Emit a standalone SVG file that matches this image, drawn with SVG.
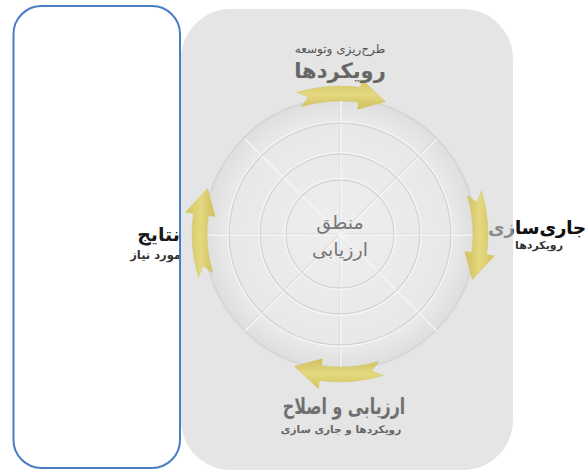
<svg xmlns="http://www.w3.org/2000/svg" width="586" height="470" viewBox="0 0 586 470">
<defs>
<radialGradient id="disk" cx="0.5" cy="0.5" r="0.5">
<stop offset="0" stop-color="#eeeeee"/>
<stop offset="0.85" stop-color="#e8e8e8"/>
<stop offset="1" stop-color="#dedede"/>
</radialGradient>
<linearGradient id="gold" x1="0" y1="0" x2="0" y2="1">
<stop offset="0" stop-color="#d3c45e"/>
<stop offset="0.5" stop-color="#e4d880"/>
<stop offset="1" stop-color="#cfbf5c"/>
</linearGradient>
<clipPath id="outR"><rect x="513" y="0" width="80" height="470"/></clipPath>
<path id="arw" d="M-43.28,-141.53 A148,148 0 0 1 20.6,-146.56 L21.72,-154.49 L45.58,-132.37 L17.54,-124.77 L18.51,-131.71 A133,133 0 0 0 -38.89,-127.19 L-31.61,-136.9 Z"/>
</defs>
<style>
.ar{font-family:"DejaVu Sans",sans-serif;direction:rtl}
.ring{fill:none;stroke:#d3d3d3;stroke-width:1.4}
.hl{fill:none;stroke:#f6f6f6;stroke-width:1.2}
.sp{stroke:#f4f4f4;stroke-width:1.6}
.sps{stroke:#d6d6d6;stroke-width:1}
.arrow{fill:url(#gold);stroke:#d0c060;stroke-width:0.4}
</style>
<rect width="586" height="470" fill="#ffffff"/>
<g id="left-label">
<text class="ar" x="180" y="241" text-anchor="start" font-size="19" font-weight="bold" fill="#1a1a1a">نتایج</text>
<text class="ar" x="181" y="259" text-anchor="start" font-size="11.5" font-weight="bold" fill="#333">مورد نیاز</text>
</g>
<rect id="panel" x="181" y="9" width="332" height="461" rx="50" ry="50" fill="#e5e5e5"/>
<g id="wheel" transform="translate(340,234)">
<circle r="136" fill="url(#disk)" stroke="#d6d6d6" stroke-width="2"/>
<g class="sps">
<line x1="0" y1="-136" x2="0" y2="136"/><line x1="-136" y1="0" x2="136" y2="0"/>
<line x1="-96" y1="-96" x2="96" y2="96"/><line x1="-96" y1="96" x2="96" y2="-96"/>
</g>
<g class="sp" transform="translate(1,1)">
<line x1="0" y1="-136" x2="0" y2="136"/><line x1="-136" y1="0" x2="136" y2="0"/>
<line x1="-96" y1="-96" x2="96" y2="96"/><line x1="-96" y1="96" x2="96" y2="-96"/>
</g>
<circle class="ring" r="111"/><circle class="hl" r="112.3"/>
<circle class="ring" r="80"/><circle class="hl" r="81.3"/>
<circle class="ring" r="54"/><circle class="hl" r="55.3"/>
</g>
<g id="center">
<text class="ar" x="340" y="229" text-anchor="middle" font-size="19" fill="#777">منطق</text>
<text class="ar" x="340" y="256" text-anchor="middle" font-size="19" fill="#777">ارزیابی</text>
</g>
<g id="connectors" transform="translate(340,234)">
<use href="#arw" class="arrow"/>
<use href="#arw" class="arrow" transform="rotate(90)"/>
<use href="#arw" class="arrow" transform="rotate(180)"/>
<use href="#arw" class="arrow" transform="rotate(270)"/>
</g>
<g id="top-label">
<text class="ar" x="340" y="53" text-anchor="middle" font-size="12" fill="#555">طرح‌ریزی وتوسعه</text>
<text class="ar" x="340" y="78" text-anchor="middle" font-size="21" font-weight="bold" fill="#666">رویکردها</text>
</g>
<g id="right-label">
<text class="ar" x="586" y="234" text-anchor="start" font-size="18" font-weight="bold" fill="#8a8a8a">جاری‌سازی</text>
<text class="ar" x="586" y="234" text-anchor="start" font-size="18" font-weight="bold" fill="#111" clip-path="url(#outR)">جاری‌سازی</text>
<text class="ar" x="563" y="249" text-anchor="start" font-size="11" font-weight="bold" fill="#333">رویکردها</text>
</g>
<g id="bottom-label">
<text class="ar" transform="translate(344,414) scale(0.72,1)" text-anchor="middle" font-size="22" font-weight="bold" fill="#707070">ارزیابی و اصلاح</text>
<text class="ar" x="341" y="433" text-anchor="middle" font-size="10.5" font-weight="bold" fill="#666">رویکردها و جاری سازی</text>
</g>
<rect id="frame" x="13.5" y="6" width="166.5" height="462" rx="28" ry="28" fill="none" stroke="#4a7ec4" stroke-width="2"/>
</svg>
